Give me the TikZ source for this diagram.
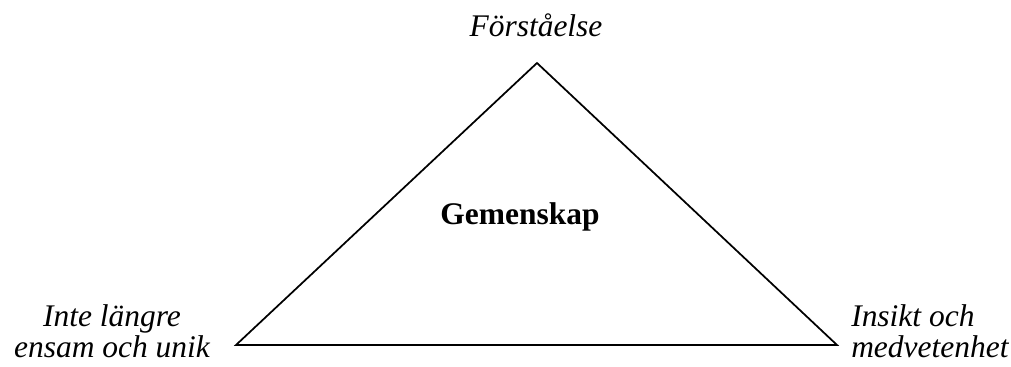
\documentclass[tikz,border=0pt]{standalone}
\usepackage{fontspec}
\setmainfont{Liberation Serif}
\usepackage{tikz}
\usetikzlibrary{positioning}
\newcommand{\diagfont}{\fontsize{23.6pt}{23.25pt}\selectfont}
\tikzset{
  cornerlabel/.style={
    font=\diagfont\itshape,
    inner sep=0pt,
    anchor=base
  },
  centerlabel/.style={
    font=\diagfont\bfseries,
    inner sep=0pt,
    anchor=base
  },
  triline/.style={line width=1.3pt, line join=miter, draw=black}
}

\begin{document}
\begin{tikzpicture}[x=0.75pt,y=-0.75pt]
  \useasboundingbox (0,0) rectangle (1011,367);

  % corners of the triangle
  \coordinate (apex) at (537,63);
  \coordinate (leftc) at (236,345);
  \coordinate (rightc) at (837,345);

  \draw[triline] (apex) -- (leftc) -- (rightc) -- cycle;

  \node[cornerlabel] (forst) at (536,37) {Förståelse};
  \node[centerlabel] (gemen) at (520,224) {Gemenskap};
  \node[cornerlabel, align=center] (ensam) at (112,357) {Inte längre\\ensam och unik};
  \node[cornerlabel, align=left, anchor=base west] (insikt) at (851,357) {Insikt och\\medvetenhet};
\end{tikzpicture}
\end{document}
